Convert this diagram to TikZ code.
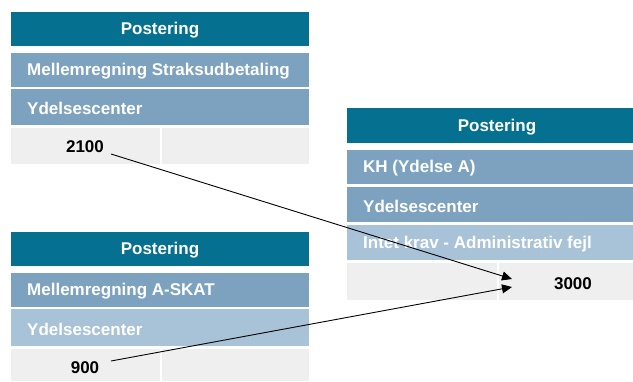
\documentclass[tikz,border=0pt]{standalone}
\usepackage{fontspec}
\setmainfont{Liberation Sans}
\usetikzlibrary{arrows.meta}
\definecolor{hdr}{HTML}{05708F}
\definecolor{rowb}{HTML}{7DA2BF}
\definecolor{rowl}{HTML}{A8C2D8}
\definecolor{rowg}{HTML}{EFEFEF}
\tikzset{
  hdrtxt/.style={text=white, font=\fontsize{17}{20}\selectfont\bfseries},
  rowtxt/.style={text=white, font=\fontsize{17}{20}\selectfont\bfseries, anchor=west, inner sep=0pt},
  numtxt/.style={text=black, font=\fontsize{17}{20}\selectfont\bfseries},
  link/.style={-{Triangle[length=10pt,width=9pt]}, line width=0.9pt, black}
}
\begin{document}
\begin{tikzpicture}[x=1pt,y=-1pt]
\useasboundingbox (0,0) rectangle (633,381);
% Table 1
\fill[hdr] (11,12) rectangle (309,46);
\node[hdrtxt] (h1) at (160,30) {Postering};
\fill[rowb] (11,53) rectangle (309,87);
\node[rowtxt] (t1a) at (27,71) {Mellemregning Straksudbetaling};
\fill[rowb] (11,89) rectangle (309,125);
\node[rowtxt] (t1b) at (27,108) {Ydelsescenter};
\fill[rowg] (11,128) rectangle (160,164);
\fill[rowg] (161.5,128) rectangle (309,164);
\node[numtxt] (n1) at (85,147) {2100};
% Table 2
\fill[hdr] (11,232) rectangle (309,266);
\node[hdrtxt] (h2) at (160,250) {Postering};
\fill[rowb] (11,273) rectangle (309,307);
\node[rowtxt] (t2a) at (27,291) {Mellemregning A-SKAT};
\fill[rowl] (11,309) rectangle (309,346);
\node[rowtxt] (t2b) at (27,329) {Ydelsescenter};
\fill[rowg] (11,349) rectangle (160,381);
\fill[rowg] (161.5,349) rectangle (309,381);
\node[numtxt] (n2) at (85,368) {900};
% Table 3
\fill[hdr] (347,108) rectangle (633,143);
\node[hdrtxt] (h3) at (497,127) {Postering};
\fill[rowb] (347,150) rectangle (633,184);
\node[rowtxt] (t3a) at (363,168) {KH (Ydelse A)};
\fill[rowb] (347,187) rectangle (633,222);
\node[rowtxt] (t3b) at (363,206) {Ydelsescenter};
\fill[rowl] (347,225) rectangle (633,260);
\node[rowtxt] (t3c) at (363,244) {Intet krav - Administrativ fejl};
\fill[rowg] (347,263) rectangle (497,300);
\fill[rowg] (498.5,263) rectangle (633,300);
\node[numtxt] (n3) at (573,284) {3000};
% Arrows
\coordinate (s1) at (111,154);
\coordinate (s2) at (111,361);
\coordinate (e1) at (512,279);
\coordinate (e2) at (512,287);
\draw[link] (s1) -- (e1);
\draw[link] (s2) -- (e2);
\end{tikzpicture}
\end{document}
